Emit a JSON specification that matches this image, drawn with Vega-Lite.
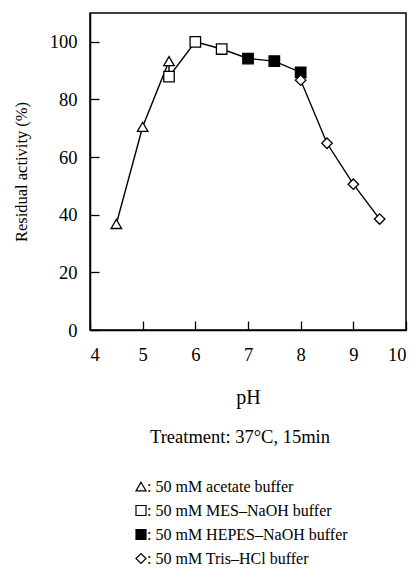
{
  "$schema": "https://vega.github.io/schema/vega-lite/v6.json",
  "width": 316,
  "height": 317,
  "autosize": {"type": "none"},
  "padding": {"left": 90, "top": 13, "right": 10, "bottom": 239},
  "background": "white",
  "config": {
    "view": {"stroke": "black", "strokeWidth": 1.5},
    "font": "Liberation Serif",
    "axis": {
      "domainColor": "black",
      "domainWidth": 1.5,
      "tickColor": "black",
      "tickWidth": 1.3,
      "tickSize": -9,
      "grid": false,
      "labelFont": "Liberation Serif",
      "labelFontSize": 18.5,
      "labelColor": "black",
      "titleFont": "Liberation Serif",
      "titleFontSize": 17,
      "titleFontWeight": "normal",
      "titleColor": "black"
    },
    "legend": {
      "labelFont": "Liberation Serif",
      "labelFontSize": 16,
      "labelColor": "black",
      "labelOffset": -2,
      "labelLimit": 300,
      "symbolSize": 100,
      "symbolStrokeWidth": 1.2,
      "rowPadding": 8,
      "titleFont": "Liberation Serif",
      "titleFontSize": 18.5,
      "titleFontWeight": "normal",
      "titleColor": "black",
      "titleAnchor": "middle",
      "titlePadding": 32
    }
  },
  "data": {
    "values": [
      {"pH": 4.5, "activity": 36.8, "buffer": "50 mM acetate buffer", "seq": 1},
      {"pH": 5.0, "activity": 70.5, "buffer": "50 mM acetate buffer", "seq": 2},
      {"pH": 5.5, "activity": 93.3, "buffer": "50 mM acetate buffer", "seq": 3},
      {"pH": 5.5, "activity": 87.9, "buffer": "50 mM MES–NaOH buffer", "seq": 4},
      {"pH": 6.0, "activity": 100.0, "buffer": "50 mM MES–NaOH buffer", "seq": 5},
      {"pH": 6.5, "activity": 97.5, "buffer": "50 mM MES–NaOH buffer", "seq": 6},
      {"pH": 7.0, "activity": 94.2, "buffer": "50 mM HEPES–NaOH buffer", "seq": 7},
      {"pH": 7.5, "activity": 93.3, "buffer": "50 mM HEPES–NaOH buffer", "seq": 8},
      {"pH": 8.0, "activity": 89.4, "buffer": "50 mM HEPES–NaOH buffer", "seq": 9},
      {"pH": 8.0, "activity": 86.7, "buffer": "50 mM Tris–HCl buffer", "seq": 10},
      {"pH": 8.5, "activity": 64.8, "buffer": "50 mM Tris–HCl buffer", "seq": 11},
      {"pH": 9.0, "activity": 50.6, "buffer": "50 mM Tris–HCl buffer", "seq": 12},
      {"pH": 9.5, "activity": 38.5, "buffer": "50 mM Tris–HCl buffer", "seq": 13}
    ]
  },
  "encoding": {
    "x": {
      "field": "pH",
      "type": "quantitative",
      "scale": {"domain": [4, 10], "nice": false, "zero": false},
      "axis": {"values": [4, 5, 6, 7, 8, 9, 10], "title": "pH", "labelPadding": 24, "titlePadding": 24, "titleFontSize": 20}
    },
    "y": {
      "field": "activity",
      "type": "quantitative",
      "scale": {"domain": [0, 110], "nice": false},
      "axis": {"values": [0, 20, 40, 60, 80, 100], "title": "Residual activity (%)", "labelPadding": 22, "titlePadding": 20, "titleFontSize": 16.5}
    }
  },
  "layer": [
    {
      "mark": {"type": "line", "color": "black", "strokeWidth": 1.4},
      "encoding": {"order": {"field": "seq", "type": "quantitative"}}
    },
    {
      "mark": {"type": "point", "filled": true, "strokeWidth": 1.3, "opacity": 1, "size": 110},
      "encoding": {
        "shape": {
          "field": "buffer",
          "type": "nominal",
          "scale": {
            "domain": ["50 mM acetate buffer", "50 mM MES–NaOH buffer", "50 mM HEPES–NaOH buffer", "50 mM Tris–HCl buffer"],
            "range": ["triangle-up", "square", "square", "diamond"]
          },
          "legend": {
            "title": "Treatment: 37°C, 15min",
            "labelExpr": "': ' + datum.label",
            "orient": "none",
            "legendX": 43,
            "legendY": 415
          }
        },
        "fill": {
          "field": "buffer",
          "type": "nominal",
          "scale": {
            "domain": ["50 mM acetate buffer", "50 mM MES–NaOH buffer", "50 mM HEPES–NaOH buffer", "50 mM Tris–HCl buffer"],
            "range": ["white", "white", "black", "white"]
          },
          "legend": {
            "title": "Treatment: 37°C, 15min",
            "labelExpr": "': ' + datum.label",
            "orient": "none",
            "legendX": 43,
            "legendY": 415
          }
        },
        "stroke": {
          "field": "buffer",
          "type": "nominal",
          "scale": {
            "domain": ["50 mM acetate buffer", "50 mM MES–NaOH buffer", "50 mM HEPES–NaOH buffer", "50 mM Tris–HCl buffer"],
            "range": ["black", "black", "black", "black"]
          },
          "legend": {
            "title": "Treatment: 37°C, 15min",
            "labelExpr": "': ' + datum.label",
            "orient": "none",
            "legendX": 43,
            "legendY": 415
          }
        }
      }
    }
  ]
}
